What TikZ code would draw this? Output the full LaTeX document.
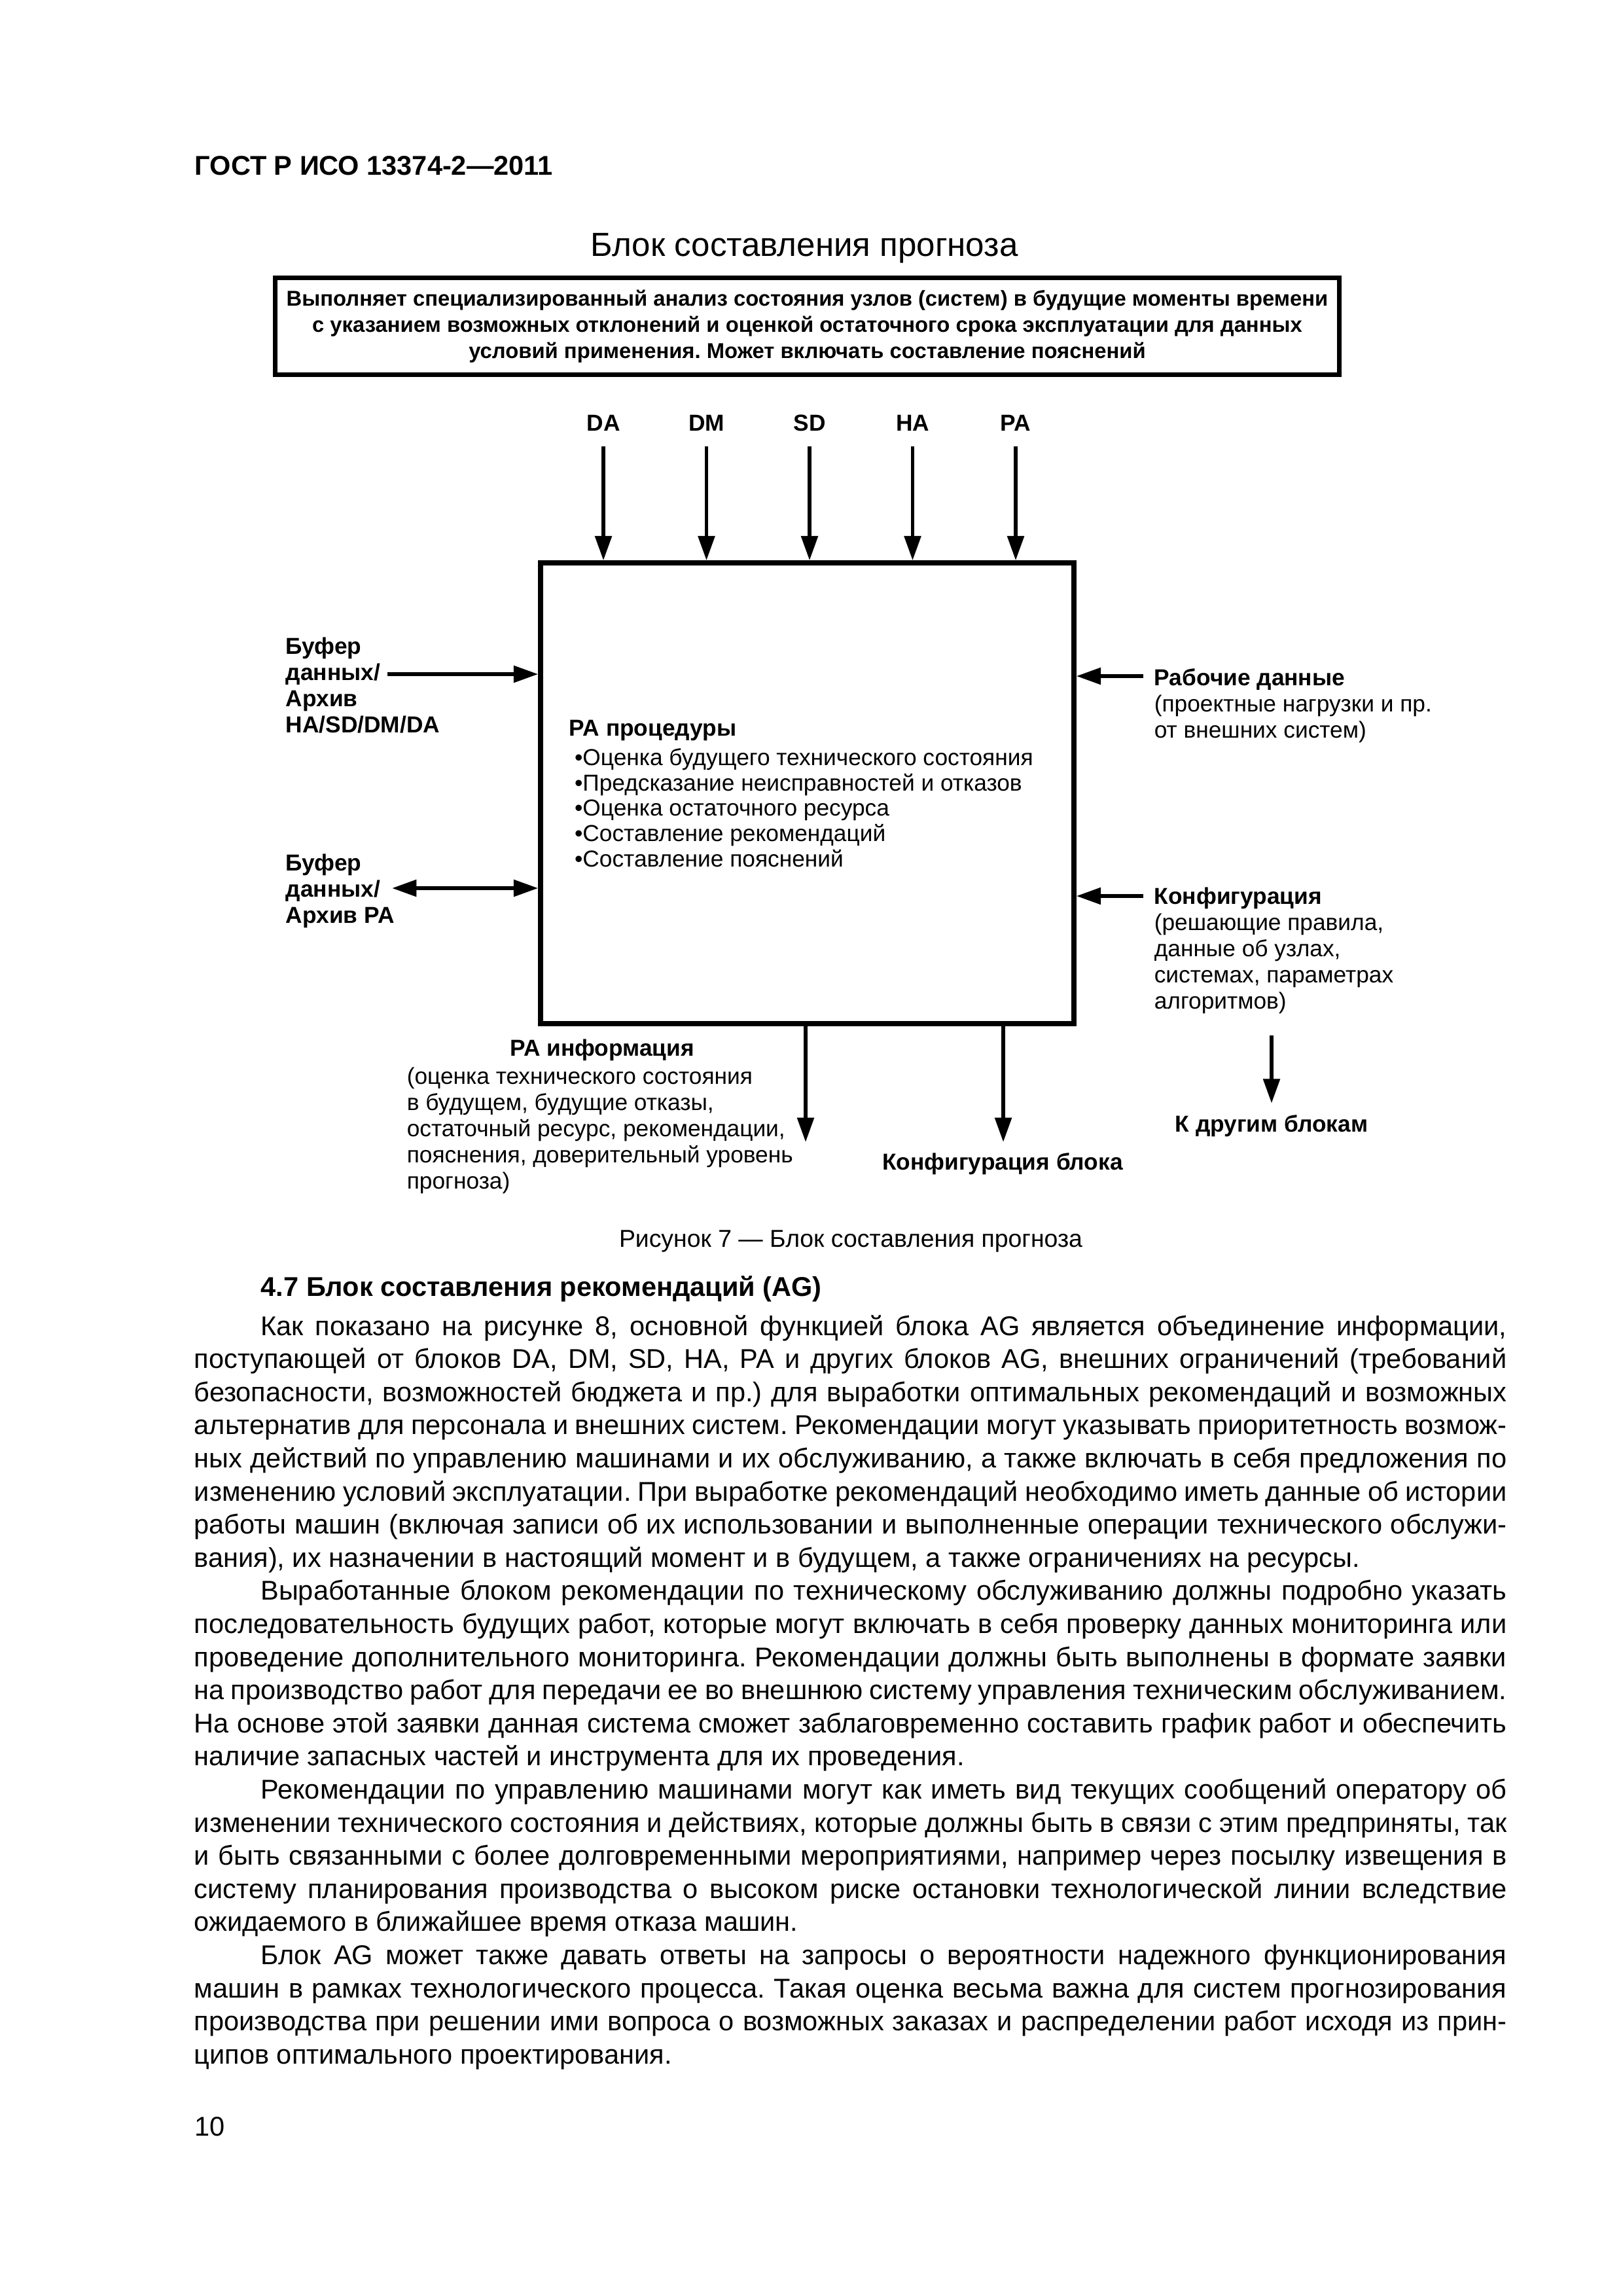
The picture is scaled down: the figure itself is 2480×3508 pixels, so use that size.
\documentclass[tikz,border=0pt]{standalone}
\usepackage{fontspec}
\setmainfont{Liberation Sans}
\usetikzlibrary{arrows.meta,positioning}
\frenchspacing

\tikzset{
  fig/.style={inner sep=0pt, font=\fontsize{8.5}{9.6}\selectfont},
  figb/.style={inner sep=0pt, font=\fontsize{8.5}{9.6}\selectfont\bfseries},
  blkbox/.style={draw, line width=1.8pt, inner sep=0pt},
  arr/.style={line width=1.4pt, -{Triangle[length=9pt,width=6pt]}},
  arrboth/.style={line width=1.4pt, {Triangle[length=9pt,width=6pt]}-{Triangle[length=9pt,width=6pt]}},
  bodyline/.style={anchor=base west, inner sep=0pt, font=\fontsize{10}{12.2}\selectfont},
}
% body text lines: indented, justified, last
\newcommand{\bli}[1]{\makebox[169.8mm][s]{\hspace*{8.6mm}#1}}
\newcommand{\blj}[1]{\makebox[169.8mm][s]{#1}}
\newcommand{\bll}[1]{#1}

\begin{document}
\begin{tikzpicture}[x=0.08467mm, y=-0.08467mm]
        \fill[white] (0,0) rectangle (2480,3508);
        \useasboundingbox (0,0) rectangle (2480,3508);
        % Header and title
        \node[anchor=base west, inner sep=0pt, font=\fontsize{10}{12}\selectfont\bfseries] (hdr) at (297,267) {ГОСТ Р ИСО 13374-2—2011};
        \node[anchor=base, inner sep=0pt, font=\fontsize{12.3}{14}\selectfont] (title) at (1229,391) {Блок составления прогноза};
        \node[draw, line width=1.6pt, inner sep=0pt, minimum width=137.7mm, minimum height=12.5mm, align=center,
              font=\fontsize{7.9}{9.6}\selectfont\bfseries] (desc) at (1233.5,498.5)
            {Выполняет специализированный анализ состояния узлов (систем) в будущие моменты времени\\
             с указанием возможных отклонений и оценкой остаточного срока эксплуатации для данных\\
             условий применения. Может включать составление пояснений};
        % Block
        \node[blkbox, minimum width=69mm, minimum height=59.6mm] (blk) at (1233.5,1212) {};
        % (multi-line nodes: base = last line)
        \node[inner sep=0pt, font=\fontsize{8.5}{9.3}\selectfont, anchor=base west, align=left] (proc) at (869,1324)
            {\textbf{PA процедуры}\\[1.5pt]
             \hspace*{2pt}•Оценка будущего технического состояния\\
             \hspace*{2pt}•Предсказание неисправностей и отказов\\
             \hspace*{2pt}•Оценка остаточного ресурса\\
             \hspace*{2pt}•Составление рекомендаций\\
             \hspace*{2pt}•Составление пояснений};
        % Inputs from above
        \foreach \lbl [count=\i from 0] in {DA,DM,SD,HA,PA}{
            \node[figb, anchor=base] (in\lbl) at (922+157.5*\i,658) {\lbl};
            \draw[arr, shorten <=5.5pt] (in\lbl.south) -- (in\lbl.south |- blk.north);
        }
        % Left side
        \node[figb, anchor=base west, align=left] (bufin) at (436,1119) {Буфер\\данных/\\Архив\\HA/SD/DM/DA};
        \coordinate (bufinend) at (592,1030);
        \draw[arr] (bufinend) -- (bufinend -| blk.west);
        \node[figb, anchor=base west, align=left] (bufpa) at (436,1410) {Буфер\\данных/\\Архив PA};
        \coordinate (bufpaend) at (599,1357);
        \draw[arrboth] (bufpaend) -- (bufpaend -| blk.west);
        % Right side
        \node[fig, anchor=base west, align=left] (work) at (1763,1127)
            {\textbf{Рабочие данные}\\(проектные нагрузки и пр.\\от внешних систем)};
        \coordinate (workend) at (1747,1033);
        \draw[arr] (workend) -- (workend -| blk.east);
        \node[fig, anchor=base west, align=left] (conf) at (1763,1541)
            {\textbf{Конфигурация}\\(решающие правила,\\данные об узлах,\\системах, параметрах\\алгоритмов)};
        \coordinate (confend) at (1747,1369);
        \draw[arr] (confend) -- (confend -| blk.east);
        % Outputs below
        \coordinate (infoend) at (1231,1745);
        \coordinate (cfgend) at (1533,1745);
        \draw[arr] (infoend |- blk.south) -- (infoend);
        \draw[arr] (cfgend |- blk.south) -- (cfgend);
        \node[figb, anchor=base] (info) at (920,1613) {PA информация};
        \node[fig, anchor=base west, align=left] (infotxt) at (621,1816)
            {(оценка технического состояния\\в будущем, будущие отказы,\\остаточный ресурс, рекомендации,\\пояснения, доверительный уровень\\прогноза)};
        \node[figb, anchor=base] (cfgblk) at (1532,1787) {Конфигурация блока};
        \node[figb, anchor=base] (other) at (1943,1729) {К другим блокам};
        \coordinate (othertop) at (1943,1582);
        \draw[arr, shorten >=4pt] (othertop) -- (othertop |- other.north);
        % Caption and text
        \node[anchor=base, inner sep=0pt, font=\fontsize{9}{11}\selectfont] (cap) at (1300,1905) {Рисунок 7 — Блок составления прогноза};
        \node[anchor=base west, inner sep=0pt, font=\fontsize{10}{12}\selectfont\bfseries] (sec) at (398,1980) {4.7 Блок составления рекомендаций (AG)};
        \foreach \f/\t [count=\i from 0] in {
            \bli/{Как показано на рисунке 8, основной функцией блока AG является объединение информации,},
            \blj/{поступающей от блоков DA, DM, SD, HA, PA и других блоков AG, внешних ограничений (требований},
            \blj/{безопасности, возможностей бюджета и пр.) для выработки оптимальных рекомендаций и возможных},
            \blj/{альтернатив для персонала и внешних систем. Рекомендации могут указывать приоритетность возмож-},
            \blj/{ных действий по управлению машинами и их обслуживанию, а также включать в себя предложения по},
            \blj/{изменению условий эксплуатации. При выработке рекомендаций необходимо иметь данные об истории},
            \blj/{работы машин (включая записи об их использовании и выполненные операции технического обслужи-},
            \bll/{вания), их назначении в настоящий момент и в будущем, а также ограничениях на ресурсы.},
            \bli/{Выработанные блоком рекомендации по техническому обслуживанию должны подробно указать},
            \blj/{последовательность будущих работ, которые могут включать в себя проверку данных мониторинга или},
            \blj/{проведение дополнительного мониторинга. Рекомендации должны быть выполнены в формате заявки},
            \blj/{на производство работ для передачи ее во внешнюю систему управления техническим обслуживанием.},
            \blj/{На основе этой заявки данная система сможет заблаговременно составить график работ и обеспечить},
            \bll/{наличие запасных частей и инструмента для их проведения.},
            \bli/{Рекомендации по управлению машинами могут как иметь вид текущих сообщений оператору об},
            \blj/{изменении технического состояния и действиях, которые должны быть в связи с этим предприняты, так},
            \blj/{и быть связанными с более долговременными мероприятиями, например через посылку извещения в},
            \blj/{систему планирования производства о высоком риске остановки технологической линии вследствие},
            \bll/{ожидаемого в ближайшее время отказа машин.},
            \bli/{Блок AG может также давать ответы на запросы о вероятности надежного функционирования},
            \blj/{машин в рамках технологического процесса. Такая оценка весьма важна для систем прогнозирования},
            \blj/{производства при решении ими вопроса о возможных заказах и распределении работ исходя из прин-},
            \bll/{ципов оптимального проектирования.}}
            \node[bodyline] (body\i) at (296,2040+50.6*\i) {\f{\t}};
        \node[bodyline] (pgno) at (297,3263) {10};
    \end{tikzpicture}
\end{document}
